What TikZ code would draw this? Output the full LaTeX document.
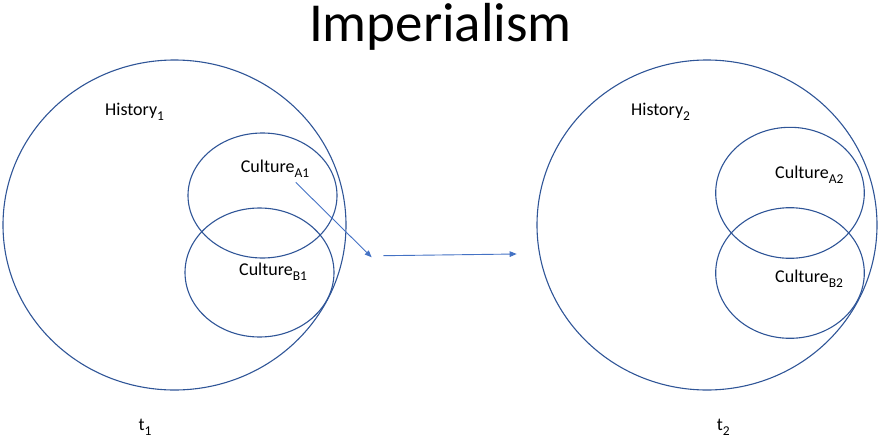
\documentclass[tikz,border=0pt]{standalone}
\usepackage{fontspec}
\setmainfont{Carlito}
\usetikzlibrary{shapes.geometric, arrows.meta, positioning}

\newcommand{\lowsub}[1]{\raisebox{-0.28em}{\fontsize{13.5}{15}\selectfont #1}}

\begin{document}
\begin{tikzpicture}[
        x=1pt, y=-1pt,
        ring/.style={draw=ringblue, line width=1.1pt, ellipse, inner sep=0pt},
        lbl/.style={font=\fontsize{18}{20}\selectfont, inner sep=0pt, anchor=base west},
        arrow/.style={-{Triangle[length=7pt, width=5.5pt]}, draw=arrowblue, line width=0.9pt}
    ]
        \definecolor{ringblue}{HTML}{2F5597}
        \definecolor{arrowblue}{HTML}{4472C4}
        \useasboundingbox (0,0) rectangle (879,442);

        % Title
        \node[font=\fontsize{55}{60}\selectfont, inner sep=0pt, anchor=base] (title) at (440.5,41.5) {Imperialism};

        % State at t1
        \node[ring, minimum width=343pt, minimum height=330pt] (hist1) at (174.5,225) {};
        \node[ring, minimum width=149pt, minimum height=125pt] (cultA1) at (262.5,195.5) {};
        \node[ring, minimum width=149pt, minimum height=129pt] (cultB1) at (259.5,272.5) {};
        \node[lbl] (hist1lbl) at (105,115) {History\lowsub{1}};
        \node[lbl] (cultA1lbl) at (240.7,172.3) {Culture\lowsub{A1}};
        \node[lbl] (cultB1lbl) at (239,275.7) {Culture\lowsub{B1}};
        \node[lbl] (t1) at (138.5,430) {t\lowsub{1}};

        % State at t2
        \node[ring, minimum width=340pt, minimum height=330pt] (hist2) at (707,225) {};
        \node[ring, minimum width=148.6pt, minimum height=131pt] (cultA2) at (790,192.8) {};
        \node[ring, minimum width=148.6pt, minimum height=130.6pt] (cultB2) at (790,273) {};
        \node[lbl] (hist2lbl) at (631,115) {History\lowsub{2}};
        \node[lbl] (cultA2lbl) at (775,178.3) {Culture\lowsub{A2}};
        \node[lbl] (cultB2lbl) at (775,282.3) {Culture\lowsub{B2}};
        \node[lbl] (t2) at (716.6,430) {t\lowsub{2}};

        % Arrows
        \coordinate (a1start) at (295.7,182.3);
        \coordinate (a1end) at (371.7,257.3);
        \coordinate (a2start) at (383.3,255.7);
        \coordinate (a2end) at (516.7,254);
        \draw[arrow] (a1start) -- (a1end);
        \draw[arrow] (a2start) -- (a2end);

    \end{tikzpicture}
\end{document}
